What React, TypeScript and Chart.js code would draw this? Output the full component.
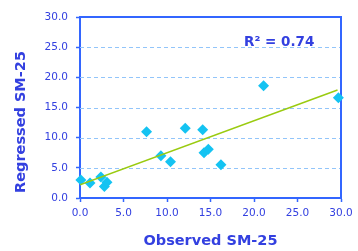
import React, { useEffect, useRef } from "react";
import { Chart, registerables } from "chart.js";

Chart.register(...registerables);

const observed = [0.1, 1.15, 2.4, 2.8, 3.1, 7.65, 9.3, 10.4, 12.1, 14.1, 14.25, 14.75, 16.2, 21.1, 29.7];
const regressed = [3.0, 2.5, 3.5, 1.9, 2.6, 11.0, 7.0, 6.0, 11.55, 11.3, 7.5, 8.1, 5.5, 18.6, 16.6];
const trendX = [0, 29.6];
const trendY = [2.2, 17.9];
const axisTicks = [0, 5, 10, 15, 20, 25, 30];
const xTitle = "Observed SM-25";
const yTitle = "Regressed SM-25";
const rSquaredLabel = "R² = 0.74";
const rSquaredPos = { x: 18.85, y: 25.7 };

const AXIS_BLUE = "#3366ff";
const TEXT_BLUE = "#3340e0";
const GRID_BLUE = "#92c5fa";

export default function App() {
  const ref = useRef<HTMLCanvasElement | null>(null);

  useEffect(() => {
    if (!ref.current) return;
    const boxPlugin = {
      id: "boxAndLabels",
      beforeDatasetsDraw(chart: any) {
        const { ctx, chartArea, scales } = chart;
        ctx.save();
        // dashed horizontal grid lines
        ctx.strokeStyle = GRID_BLUE;
        ctx.lineWidth = 1;
        ctx.setLineDash([4, 3]);
        for (const v of axisTicks) {
          if (v === 0 || v === 30) continue;
          const y = Math.round(scales.y.getPixelForValue(v)) + 0.5;
          ctx.beginPath();
          ctx.moveTo(chartArea.left, y);
          ctx.lineTo(chartArea.right, y);
          ctx.stroke();
        }
        ctx.setLineDash([]);
        ctx.strokeStyle = AXIS_BLUE;
        ctx.lineWidth = 2;
        ctx.beginPath();
        ctx.moveTo(chartArea.left, chartArea.top);
        ctx.lineTo(chartArea.right, chartArea.top);
        ctx.lineTo(chartArea.right, chartArea.bottom);
        ctx.stroke();
        ctx.restore();
      },
      afterDraw(chart: any) {
        const { ctx, scales } = chart;
        ctx.save();
        ctx.fillStyle = TEXT_BLUE;
        ctx.font = "bold 13.5px 'DejaVu Sans'";
        ctx.textAlign = "left";
        ctx.textBaseline = "middle";
        ctx.fillText(rSquaredLabel, scales.x.getPixelForValue(rSquaredPos.x), scales.y.getPixelForValue(rSquaredPos.y));
        // y axis title
        ctx.translate(21, 122);
        ctx.rotate(-Math.PI / 2);
        ctx.textAlign = "center";
        ctx.font = "bold 14.5px 'DejaVu Sans'";
        ctx.fillText(yTitle, 0, 0);
        ctx.restore();
      },
    };

    const tickFont = { family: "DejaVu Sans", size: 10.5 };
    const chart = new Chart(ref.current, {
      type: "scatter",
      data: {
        datasets: [
          {
            type: "line",
            data: trendX.map((x, i) => ({ x, y: trendY[i] })),
            borderColor: "#9acb10",
            borderWidth: 1.5,
            pointRadius: 0,
            fill: false,
            order: 0,
          },
          {
            type: "scatter",
            data: observed.map((x, i) => ({ x, y: regressed[i] })),
            pointStyle: "rectRot",
            pointRadius: 5.5,
            backgroundColor: "#14c3f2",
            borderColor: "#14c3f2",
            borderWidth: 0,
            clip: false,
            order: 1,
          },
        ] as any,
      },
      options: {
        animation: false,
        responsive: false,
        layout: { padding: { left: 8, right: 17, top: 17, bottom: 0 } },
        plugins: { legend: { display: false }, tooltip: { enabled: false } },
        scales: {
          x: {
            type: "linear",
            min: 0,
            max: 30,
            afterBuildTicks: (s: any) => {
              s.ticks = axisTicks.map((v) => ({ value: v }));
            },
            afterFit: (s: any) => {
              s.height = 53;
              s.paddingLeft = 0;
              s.paddingRight = 0;
            },
            ticks: {
              color: TEXT_BLUE,
              font: tickFont,
              padding: 5,
              maxRotation: 0,
              callback: (v: any) => Number(v).toFixed(1),
            },
            grid: {
              drawOnChartArea: false,
              drawTicks: true,
              tickLength: 4,
              tickColor: AXIS_BLUE,
              tickWidth: 1.5,
            },
            border: { color: AXIS_BLUE, width: 2 },
            title: {
              display: true,
              text: xTitle,
              color: TEXT_BLUE,
              font: { family: "DejaVu Sans", size: 14.5, weight: "bold" },
              padding: { top: 0, bottom: 1 },
            },
          },
          y: {
            type: "linear",
            min: 0,
            max: 30,
            afterBuildTicks: (s: any) => {
              s.ticks = axisTicks.map((v) => ({ value: v }));
            },
            afterFit: (s: any) => {
              s.width = 72;
              s.paddingTop = 0;
              s.paddingBottom = 0;
            },
            ticks: {
              color: TEXT_BLUE,
              font: tickFont,
              padding: 8,
              callback: (v: any) => Number(v).toFixed(1),
            },
            grid: {
              drawOnChartArea: false,
              drawTicks: true,
              tickLength: 4,
              tickColor: AXIS_BLUE,
              tickWidth: 1.5,
            },
            border: { color: AXIS_BLUE, width: 2 },
          },
        },
      } as any,
      plugins: [boxPlugin],
    });
    return () => chart.destroy();
  }, []);

  return (
    <div style={{ position: "absolute", left: 0, top: 0, width: 358, height: 251, background: "#fff" }}>
      <canvas ref={ref} width={358} height={251} style={{ display: "block" }} />
    </div>
  );
}
